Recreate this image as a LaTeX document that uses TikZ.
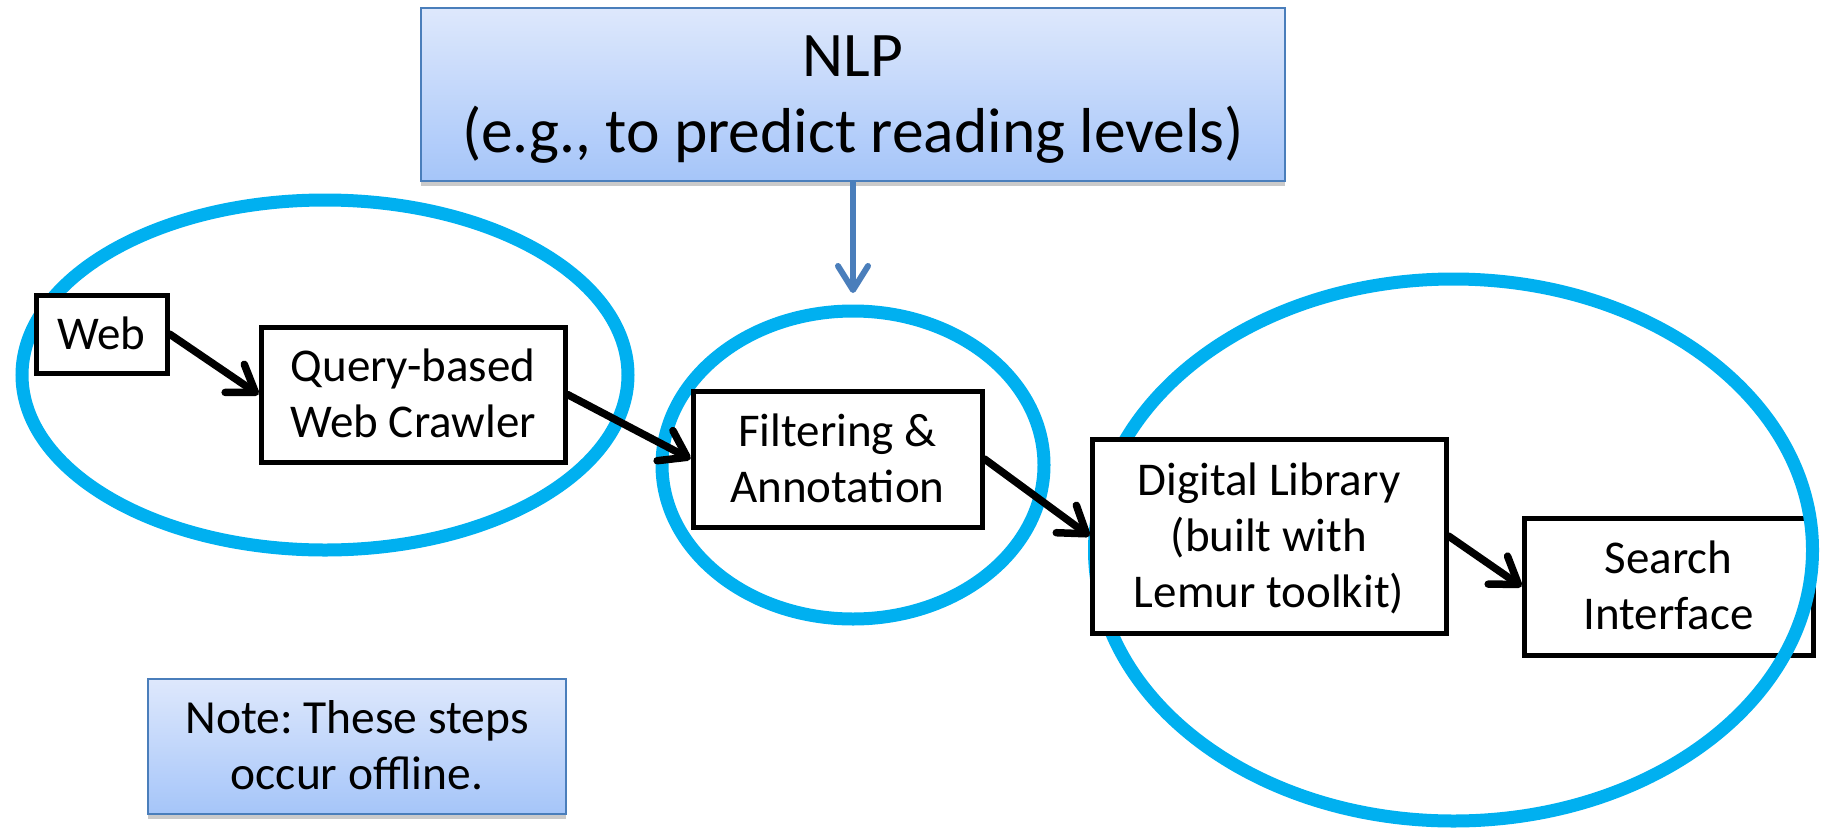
\documentclass[tikz,border=0pt]{standalone}
\usepackage{fontspec}
\setmainfont{Carlito}
\frenchspacing
\usetikzlibrary{arrows.meta,shadows}
\definecolor{ringblue}{RGB}{0,176,240}
\definecolor{accentblue}{RGB}{74,126,187}
\definecolor{gradtop}{RGB}{222,232,252}
\definecolor{gradbot}{RGB}{165,197,249}
\newcommand{\sstrut}{\rule[-0.18em]{0pt}{1em}}
\tikzset{
  procbox/.style={draw=black, line width=5pt, fill=white, inner sep=0pt,
    align=center, font=\fontsize{47}{56}\selectfont},
  infobox/.style={draw=accentblue, line width=1.8pt, top color=gradtop, bottom color=gradbot,
    inner sep=0pt, align=center,
    drop shadow={shadow xshift=0pt, shadow yshift=-5pt, opacity=0.35, fill=black!60}},
  ring/.style={draw=ringblue, line width=13pt},
  flow/.style={draw=black, line width=7.5pt, line cap=round,
    -{Straight Barb[length=25pt,width=34pt,round]}},
  nlpflow/.style={draw=accentblue, line width=6pt,
    -{Straight Barb[length=24pt,width=30pt,round]}}
}
\begin{document}
\begin{tikzpicture}[x=1pt,y=-1pt]
\useasboundingbox (0,0) rectangle (1821,828);
% box under the ring
\node[procbox, minimum width=289pt, minimum height=137pt] (search) at (1668.5,586.5)
  {\sstrut Search\\\sstrut Interface};
% rings
\draw[ring] (325,375) ellipse [x radius=303pt, y radius=175pt];
\draw[ring] (853,465) ellipse [x radius=191pt, y radius=154pt];
\draw[ring] (1453.5,550) ellipse [x radius=359pt, y radius=271pt];
% boxes
\node[procbox, minimum width=131pt, minimum height=78pt] (web) at (101.5,334) {\sstrut Web};
\node[procbox, minimum width=304pt, minimum height=135pt] (query) at (413,394.5)
  {\sstrut Query-based\\\sstrut Web Crawler};
\node[procbox, minimum width=289pt, minimum height=136pt] (filter) at (837.5,459)
  {\sstrut Filtering \&\\\sstrut Annotation};
\node[procbox, minimum width=354pt, minimum height=194pt] (dl) at (1269,536)
  {\sstrut Digital Library\\\sstrut (built with\\\sstrut Lemur toolkit)};
\node[infobox, minimum width=864pt, minimum height=173pt,
  font=\fontsize{63.5}{76}\selectfont] (nlp) at (853,94.5)
  {\sstrut NLP\\\sstrut (e.g., to predict reading levels)};
\node[infobox, minimum width=418pt, minimum height=135pt,
  font=\fontsize{47.5}{56}\selectfont] (note) at (357,746.5)
  {\sstrut Note: These steps\\\sstrut occur offline.};
% connectors
\coordinate (nlpend) at (853,293);
\draw[nlpflow] (nlp.south) -- (nlpend);
\draw[flow] (web.east) -- (query.west);
\draw[flow] (query.east) -- (filter.west);
\draw[flow] (filter.east) -- (dl.west);
\draw[flow] (dl.east) -- (search.west);
\end{tikzpicture}
\end{document}
